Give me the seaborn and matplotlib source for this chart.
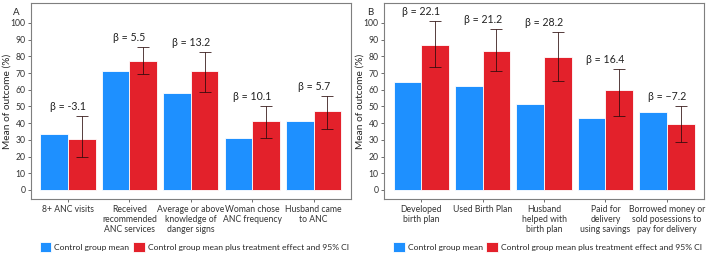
import matplotlib
matplotlib.use("Agg")
import matplotlib.pyplot as plt
import seaborn as sns
import pandas as pd

# panel A
outcomes_a = ["8+ ANC visits", "Received\nrecommended\nANC services",
              "Average or above\nknowledge of\ndanger signs",
              "Woman chose\nANC frequency", "Husband came\nto ANC"]
control_a = [33.7, 71.5, 58.0, 31.3, 41.2]
treated_a = [30.7, 76.9, 71.3, 41.2, 47.2]
ci_low_a = [19.7, 69.5, 58.4, 30.9, 36.3]
ci_high_a = [44.4, 85.3, 82.5, 50.0, 56.2]
beta_a = ["β = -3.1", "β = 5.5", "β = 13.2", "β = 10.1", "β = 5.7"]

# panel B
outcomes_b = ["Developed\nbirth plan", "Used Birth Plan",
              "Husband\nhelped with\nbirth plan",
              "Paid for\ndelivery\nusing savings",
              "Borrowed money or\nsold posessions to\npay for delivery"]
control_b = [64.6, 62.0, 51.6, 43.0, 46.6]
treated_b = [86.7, 83.3, 79.7, 59.6, 39.5]
ci_low_b = [73.7, 71.5, 65.0, 44.0, 28.5]
ci_high_b = [101.0, 96.4, 94.3, 72.3, 50.2]
beta_b = ["β = 22.1", "β = 21.2", "β = 28.2", "β = 16.4", "β = −7.2"]

groups = ["Control group mean",
          "Control group mean plus treatment effect and 95% CI"]
colors = ["#1E90FF", "#E3212B"]

sns.set_style("white")
plt.rcParams['font.family'] = ['Lato', 'DejaVu Sans']


def panel(ax, outcomes, control, treated, lo, hi, betas, letter):
    df = pd.DataFrame({
        "outcome": outcomes * 2,
        "value": control + treated,
        "group": [groups[0]] * len(outcomes) + [groups[1]] * len(outcomes),
    })
    sns.barplot(data=df, x="outcome", y="value", hue="group", order=outcomes,
                hue_order=groups, palette=colors, saturation=1, width=0.9,
                errorbar=None, edgecolor="white", linewidth=0.6, ax=ax)
    red_bars = ax.containers[1]
    xs = [b.get_x() + b.get_width() / 2 for b in red_bars]
    yerr = [[t - l for t, l in zip(treated, lo)], [h - t for t, h in zip(treated, hi)]]
    ax.errorbar(xs, treated, yerr=yerr, fmt="none", ecolor="#2b0b0b",
                elinewidth=0.7, capsize=4, capthick=0.7, alpha=0.8)
    for i, (b, h) in enumerate(zip(betas, hi)):
        ax.text(i, h + 2.5, b, ha="center", va="bottom", fontsize=7.6,
                color="#222222")
    ax.set_ylim(-5.4, 111.8)
    ax.set_xlim(-0.6, 4.6)
    ax.set_yticks(range(0, 101, 10))
    ax.set_xlabel("")
    ax.set_ylabel("Mean of outcome (%)", fontsize=7.3)
    ax.yaxis.set_label_coords(-0.062, 0.5)
    ax.tick_params(axis="both", labelsize=6.2, colors="#333333", length=2.5,
                   width=0.6, pad=1.5, left=True, bottom=True)
    ax.tick_params(axis="both", color="#555555")
    for lab in ax.get_xticklabels():
        lab.set_linespacing(1.2)
    for s in ax.spines.values():
        s.set_color("#7f7f7f")
        s.set_linewidth(0.8)
    ax.text(-0.045, 0.955, letter, transform=ax.transAxes, fontsize=7,
            ha="center", va="center")
    sns.move_legend(ax, "center", bbox_to_anchor=(0.51, -0.245), ncol=2,
                    frameon=False, title=None, fontsize=6.1,
                    handlelength=1.4, handleheight=1.4, handletextpad=0.35,
                    columnspacing=0.4)


fig, axes = plt.subplots(1, 2, figsize=(7.08, 2.66), dpi=100)
fig.subplots_adjust(left=0.044, right=0.994, top=0.988, bottom=0.252,
                    wspace=0.106)
panel(axes[0], outcomes_a, control_a, treated_a, ci_low_a, ci_high_a, beta_a, "A")
panel(axes[1], outcomes_b, control_b, treated_b, ci_low_b, ci_high_b, beta_b, "B")

fig.savefig("out.png", dpi=100)
